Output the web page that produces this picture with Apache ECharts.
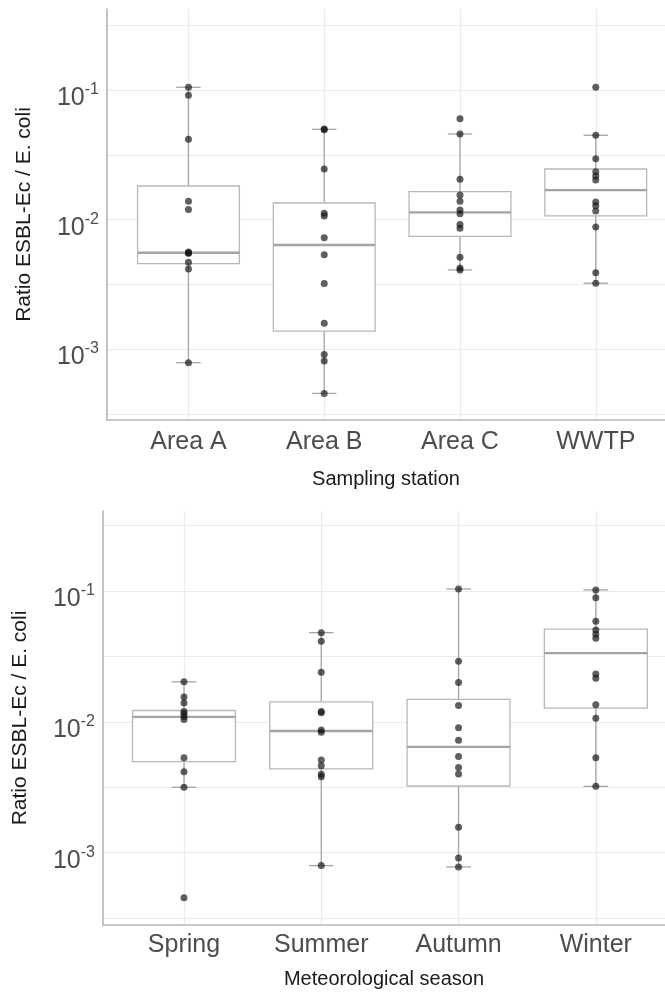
<!DOCTYPE html>
<html>
<head>
<meta charset="utf-8">
<script src="https://cdn.jsdelivr.net/npm/echarts@6/dist/echarts.min.js"></script>
<style>
  html, body { margin: 0; padding: 0; background: #fff; }
  #chart { width: 665px; height: 994px; }
</style>
</head>
<body>
<div id="chart"></div>
<script>
// categories
const stations = ['Area A', 'Area B', 'Area C', 'WWTP'];
const seasons = ['Spring', 'Summer', 'Autumn', 'Winter'];

// box stats: [lower whisker, Q1, median, Q3, upper whisker]
const stationBoxes = [
  [0.00079, 0.00458, 0.00557, 0.0182, 0.105],
  [0.000458, 0.001386, 0.00638, 0.01346, 0.0498],
  [0.0041, 0.00745, 0.0114, 0.01644, 0.0458],
  [0.00324, 0.0107, 0.0169, 0.0246, 0.0448]
];
const stationPoints = [
  [0.105, 0.091, 0.0417, 0.0139, 0.0120, 0.00565, 0.00555, 0.00551, 0.00470, 0.00417, 0.00079],
  [0.0500, 0.0493, 0.0246, 0.0112, 0.0107, 0.00726, 0.00537, 0.00323, 0.00159, 0.000916, 0.000815, 0.000458],
  [0.0601, 0.0458, 0.0205, 0.0155, 0.0139, 0.0119, 0.0111, 0.0092, 0.0086, 0.00513, 0.00425, 0.00409],
  [0.105, 0.0448, 0.0295, 0.0234, 0.0217, 0.0202, 0.0137, 0.0128, 0.0117, 0.0088, 0.0039, 0.00324]
];
const seasonBoxes = [
  [0.00316, 0.00496, 0.0109, 0.0122, 0.0202],
  [0.000796, 0.00436, 0.00851, 0.0142, 0.048],
  [0.000778, 0.00323, 0.00643, 0.01486, 0.1035],
  [0.00321, 0.0127, 0.0335, 0.0511, 0.1018]
];
const seasonPoints = [
  [0.0202, 0.0155, 0.0139, 0.0120, 0.0115, 0.0110, 0.0104, 0.00532, 0.00416, 0.00316, 0.000453],
  [0.048, 0.0412, 0.0239, 0.0120, 0.0117, 0.00867, 0.00832, 0.0051, 0.00462, 0.00397, 0.00381, 0.000796],
  [0.1035, 0.029, 0.020, 0.0133, 0.0090, 0.00723, 0.00542, 0.00447, 0.00399, 0.00156, 0.000912, 0.000778],
  [0.1018, 0.0889, 0.0586, 0.0503, 0.0467, 0.0435, 0.0232, 0.0215, 0.0135, 0.01064, 0.0053, 0.00321]
];

// tick labels (log10 exponents) and grid lines
const yTickExp = [-3, -2, -1];
const yGridExp = [-3.5, -3, -2.5, -2, -1.5, -1, -0.5];
const xPos = [1, 2, 3, 4];

const FONT = 'Liberation Sans, Arial, sans-serif';
const gridCol = '#ebebeb';
const axisCol = '#b5b5b5';

function boxData(boxes) {
  return boxes.map((b, i) => [i + 1].concat(b.map(v => Math.log10(v))));
}
function pointData(points) {
  const out = [];
  points.forEach((arr, i) => arr.forEach(v => out.push([i + 1, Math.log10(v)])));
  return out;
}

function renderBox(params, api) {
  const x = api.value(0);
  const lo = api.value(1), q1 = api.value(2), md = api.value(3), q3 = api.value(4), hi = api.value(5);
  const hw = 0.375, cw = 0.09;
  const tl = api.coord([x - hw, q3]);
  const br = api.coord([x + hw, q1]);
  const mL = api.coord([x - hw, md]);
  const mR = api.coord([x + hw, md]);
  const top = api.coord([x, hi]);
  const bot = api.coord([x, lo]);
  const cL = api.coord([x - cw, hi])[0];
  const cR = api.coord([x + cw, hi])[0];
  const lineStyle = { stroke: '#a6a6a6', lineWidth: 1.3 };
  return {
    type: 'group',
    children: [
      { type: 'line', shape: { x1: top[0], y1: top[1], x2: top[0], y2: tl[1] }, style: lineStyle },
      { type: 'line', shape: { x1: bot[0], y1: bot[1], x2: bot[0], y2: br[1] }, style: lineStyle },
      { type: 'line', shape: { x1: cL, y1: top[1], x2: cR, y2: top[1] }, style: lineStyle },
      { type: 'line', shape: { x1: cL, y1: bot[1], x2: cR, y2: bot[1] }, style: lineStyle },
      { type: 'rect', shape: { x: tl[0], y: tl[1], width: br[0] - tl[0], height: br[1] - tl[1] },
        style: { fill: '#ffffff', stroke: '#b8b8b8', lineWidth: 1.3 } },
      { type: 'line', shape: { x1: mL[0], y1: mL[1], x2: mR[0], y2: mR[1] },
        style: { stroke: '#a3a3a3', lineWidth: 2.4 } }
    ]
  };
}

function makeX(gridIndex, cats, min, max, name, gap, margin) {
  return {
    type: 'value', gridIndex, min, max,
    name, nameLocation: 'middle', nameGap: gap,
    nameTextStyle: { fontFamily: FONT, fontSize: 20, color: '#1a1a1a' },
    axisLine: { show: true, onZero: false, lineStyle: { color: axisCol, width: 1.6 } },
    axisTick: { show: false, customValues: xPos },
    axisLabel: {
      customValues: xPos, margin,
      fontFamily: FONT, fontSize: 25, color: '#4d4d4d',
      formatter: v => cats[Math.round(v) - 1]
    },
    splitLine: { show: true, lineStyle: { color: gridCol, width: 1.2 } }
  };
}

function makeY(gridIndex, min, max) {
  return {
    type: 'value', gridIndex, min, max,
    name: 'Ratio ESBL-Ec / E. coli', nameLocation: 'middle', nameGap: 72,
    nameTextStyle: { fontFamily: FONT, fontSize: 21, color: '#1a1a1a' },
    axisLine: { show: true, onZero: false, lineStyle: { color: axisCol, width: 1.6 } },
    axisTick: { show: false, customValues: yGridExp },
    axisLabel: {
      customValues: yTickExp, margin: 8,
      padding: [12, 0, 0, 0],
      formatter: v => '{b|10}{s|' + Math.round(v) + '}',
      rich: {
        b: { fontFamily: FONT, fontSize: 25, color: '#4d4d4d', padding: [4, 0, 0, 0], verticalAlign: 'bottom' },
        s: { fontFamily: FONT, fontSize: 16, color: '#4d4d4d', verticalAlign: 'top' }
      }
    },
    splitLine: { show: true, lineStyle: { color: gridCol, width: 1.2 } }
  };
}

const chart = echarts.init(document.getElementById('chart'), null, { renderer: 'canvas' });
chart.setOption({
  animation: false,
  backgroundColor: '#ffffff',
  grid: [
    { left: 107, top: 9, width: 558, height: 411 },
    { left: 103, top: 511, width: 562, height: 414 }
  ],
  xAxis: [
    makeX(0, stations, 0.4, 4.51, 'Sampling station', 49, 10),
    makeX(1, seasons, 0.41, 4.504, 'Meteorological season', 44, 8)
  ],
  yAxis: [
    makeY(0, -3.544, -0.3755),
    makeY(1, -3.553, -0.389)
  ],
  series: [
    { type: 'custom', xAxisIndex: 0, yAxisIndex: 0, renderItem: renderBox,
      encode: { x: 0, y: [1, 2, 3, 4, 5] }, data: boxData(stationBoxes), z: 2 },
    { type: 'scatter', xAxisIndex: 0, yAxisIndex: 0, data: pointData(stationPoints),
      symbolSize: 7, itemStyle: { color: 'rgba(20,20,20,0.85)' }, z: 3 },
    { type: 'custom', xAxisIndex: 1, yAxisIndex: 1, renderItem: renderBox,
      encode: { x: 0, y: [1, 2, 3, 4, 5] }, data: boxData(seasonBoxes), z: 2 },
    { type: 'scatter', xAxisIndex: 1, yAxisIndex: 1, data: pointData(seasonPoints),
      symbolSize: 7, itemStyle: { color: 'rgba(20,20,20,0.85)' }, z: 3 }
  ]
});
</script>
</body>
</html>
